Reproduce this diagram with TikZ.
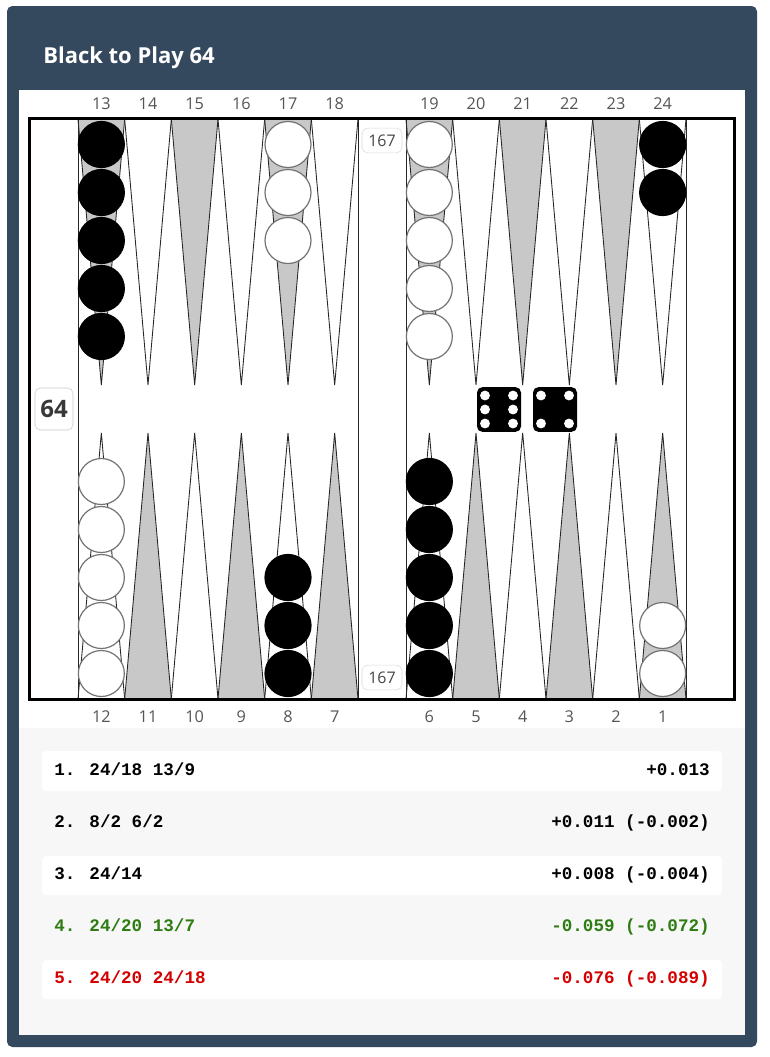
\documentclass[tikz,border=0pt]{standalone}
\usepackage{fontspec}
\setmainfont{Open Sans}
\newfontfamily\monof{Liberation Mono}
\definecolor{panel}{HTML}{34495E}
\definecolor{listbg}{HTML}{F7F7F7}
\definecolor{ptgray}{HTML}{C8C8C8}
\definecolor{numgray}{HTML}{555555}
\definecolor{goodgreen}{HTML}{2E7D12}
\definecolor{badred}{HTML}{D40000}
\tikzset{
  tri/.style={draw=black!85, line width=0.65pt, line join=miter},
  ptnum/.style={text=numgray, font=\fontsize{12.2}{14}\selectfont, inner sep=0pt},
  wchk/.style={circle, minimum size=34.5pt, inner sep=0pt, fill=white, draw=black!55, line width=0.9pt},
  bchk/.style={circle, minimum size=34.5pt, inner sep=0pt, fill=black, draw=black, line width=0.9pt},
  pipbox/.style={draw=black!15, fill=white, rounded corners=4pt, minimum width=30pt, minimum height=18.5pt, inner sep=0pt, text=black!72, font=\fontsize{12}{14}\selectfont},
  cubebox/.style={draw=black!22, fill=white, rounded corners=4pt, minimum width=28.5pt, minimum height=31.5pt, inner sep=0pt, text=black!78, font=\fontsize{18}{20}\selectfont\bfseries},
  diebox/.style={fill=black, rounded corners=4pt, minimum width=33pt, minimum height=33.5pt, inner sep=0pt},
  rowbox/.style={fill=white, rounded corners=3pt},
  mv/.style={font=\monof\bfseries\fontsize{13.2}{15}\selectfont, inner sep=0pt},
}
\begin{document}
\begin{tikzpicture}[x=0.75pt,y=-0.75pt]
\useasboundingbox (0,0) rectangle (769,1057);
\fill[white] (0,0) rectangle (769,1057);
% panel
\fill[panel, rounded corners=4pt] (7,6) rectangle (757,1047);
\fill[white] (19,90) rectangle (745,728);
\fill[listbg] (19,728) rectangle (745,1035);
\node[anchor=base west, text=white, inner sep=0pt, font=\fontsize{16.5}{19}\selectfont\bfseries] (title) at (43,63) {Black to Play 64};

% triangles
\foreach \k/\tc/\bc in {0/ptgray/white,1/white/ptgray,2/ptgray/white,3/white/ptgray,4/ptgray/white,5/white/ptgray} {
  \foreach \xo in {78,406} {
    \filldraw[fill=\tc, tri] ({\xo+46.667*\k},119) -- ({\xo+46.667*(\k+0.5)},385) -- ({\xo+46.667*(\k+1)},119);
    \filldraw[fill=\bc, tri] ({\xo+46.667*\k},699) -- ({\xo+46.667*(\k+0.5)},433) -- ({\xo+46.667*(\k+1)},699);
  }
}
% inner vertical lines
\foreach \xv in {78,358,406,686} {
  \draw[black!85, line width=0.75pt] (\xv,118) -- (\xv,700);
}
% frame
\draw[black, line width=2.4pt] (29.5,118.5) rectangle (734.5,699.5);

% point numbers
\foreach \p/\xc in {13/101.33,14/148,15/194.67,16/241.33,17/288,18/334.67,19/429.33,20/476,21/522.67,22/569.33,23/616,24/662.67} {
  \node[ptnum] (n\p) at (\xc,104) {\p};
}
\foreach \p/\xc in {12/101.33,11/148,10/194.67,9/241.33,8/288,7/334.67,6/429.33,5/476,4/522.67,3/569.33,2/616,1/662.67} {
  \node[ptnum] (n\p) at (\xc,717) {\p};
}

% checkers top
\foreach \i in {0,...,4} { \node[bchk] (c13-\i) at (101.33,{144.5+48*\i}) {}; }
\foreach \i in {0,...,2} { \node[wchk] (c17-\i) at (288,{144.5+48*\i}) {}; }
\foreach \i in {0,...,4} { \node[wchk] (c19-\i) at (429.33,{144.5+48*\i}) {}; }
\foreach \i in {0,...,1} { \node[bchk] (c24-\i) at (662.67,{144.5+48*\i}) {}; }
% checkers bottom
\foreach \i in {0,...,4} { \node[wchk] (c12-\i) at (101.33,{673.5-48*\i}) {}; }
\foreach \i in {0,...,2} { \node[bchk] (c8-\i) at (288,{673.5-48*\i}) {}; }
\foreach \i in {0,...,4} { \node[bchk] (c6-\i) at (429.33,{673.5-48*\i}) {}; }
\foreach \i in {0,...,1} { \node[wchk] (c1-\i) at (662.67,{673.5-48*\i}) {}; }

% pip counts and cube
\node[pipbox] (piptop) at (382,140.5) {167};
\node[pipbox] (pipbot) at (382,677.5) {167};
\node[cubebox] (cube) at (54,409) {64};

% dice
\node[diebox] (die1) at (499,409.5) {};
\node[diebox] (die2) at (555,409.5) {};
\foreach \dx in {-14,14} {
  \foreach \dy in {-14,0,14} {
    \fill[white] ({499+\dx},{409.5+\dy}) circle[radius=3.7pt];
  }
  \foreach \dy in {-14,14} {
    \fill[white] ({555+\dx},{409.5+\dy}) circle[radius=3.7pt];
  }
}

% move list
\fill[rowbox] (42,751) rectangle (722,791);
\fill[rowbox] (42,856) rectangle (722,895);
\fill[rowbox] (42,960) rectangle (722,999);
\node[mv, anchor=base west] (m1) at (54,775) {1. 24/18 13/9};
\node[mv, anchor=base east] (e1) at (710,775) {+0.013};
\node[mv, anchor=base west] (m2) at (54,827) {2. 8/2 6/2};
\node[mv, anchor=base east] (e2) at (710,827) {+0.011 (-0.002)};
\node[mv, anchor=base west] (m3) at (54,879) {3. 24/14};
\node[mv, anchor=base east] (e3) at (710,879) {+0.008 (-0.004)};
\node[mv, anchor=base west, text=goodgreen] (m4) at (54,931) {4. 24/20 13/7};
\node[mv, anchor=base east, text=goodgreen] (e4) at (710,931) {-0.059 (-0.072)};
\node[mv, anchor=base west, text=badred] (m5) at (54,983) {5. 24/20 24/18};
\node[mv, anchor=base east, text=badred] (e5) at (710,983) {-0.076 (-0.089)};
\end{tikzpicture}
\end{document}
